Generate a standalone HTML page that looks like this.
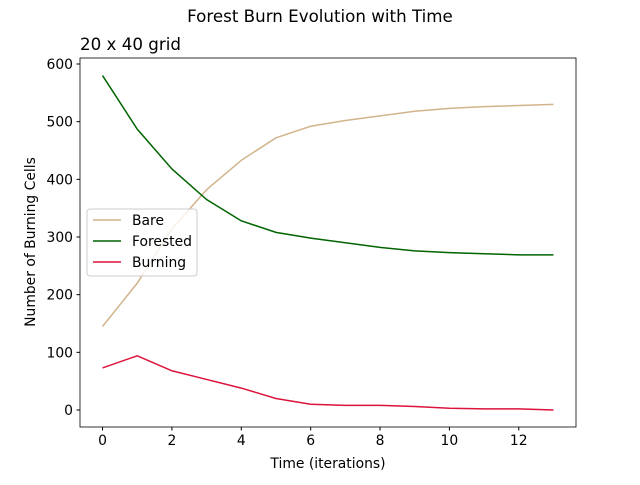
<!DOCTYPE html>
<html><head><meta charset="utf-8"><style>body{margin:0;background:#fff}svg{font-family:"DejaVu Sans","Liberation Sans",sans-serif}</style></head>
<body>
<svg id="c" width="640" height="480"></svg>
<script>
const iterations=[0,1,2,3,4,5,6,7,8,9,10,11,12,13];
const bare=[145,220,314,382,433,472,492,502,510,518,523,526,528,530];
const forested=[580,487,418,365,328,308,298,290,282,276,273,271,269,269];
const burning=[73,94,68,53,38,20,10,8,8,6,3,2,2,0];
const xTicks=[0,2,4,6,8,10,12];
const yTicks=[0,100,200,300,400,500,600];
const NS='http://www.w3.org/2000/svg';
const svg=document.getElementById('c');
const L=80,R=576,T=58,B=427;
const X=v=>L+(v+0.65)*(R-L)/14.3;
const Y=v=>410-v*(410-64)/600;
function el(t,a,p){const e=document.createElementNS(NS,t);for(const k in a)e.setAttribute(k,a[k]);(p||svg).appendChild(e);return e;}
let t=el('text',{x:320,y:22,'text-anchor':'middle','font-size':16.7});t.textContent='Forest Burn Evolution with Time';

t=el('text',{x:80,y:50,'font-size':16.7});t.textContent='20 x 40 grid';

const series=[[bare,'#d2b48c','Bare'],[forested,'#006400','Forested'],[burning,'#dc143c','Burning']];
series.forEach(([d,c,n])=>{const p=el('polyline',{points:d.map((v,i)=>X(iterations[i])+','+Y(v)).join(' '),fill:'none',stroke:c,'stroke-width':1.5});
});
const f=el('rect',{x:L,y:T,width:R-L,height:B-T,fill:'none',stroke:'#000','stroke-width':0.8});

xTicks.forEach(v=>{el('line',{x1:X(v),x2:X(v),y1:B,y2:B+3.5,stroke:'#000'});const s=el('text',{x:X(v),y:B+18,'text-anchor':'middle','font-size':13.9});s.textContent=v;
});
yTicks.forEach(v=>{el('line',{x1:L-3.5,x2:L,y1:Y(v),y2:Y(v),stroke:'#000'});const s=el('text',{x:L-7,y:Y(v)+5,'text-anchor':'end','font-size':13.9});s.textContent=v;
});
t=el('text',{x:328,y:468,'text-anchor':'middle','font-size':13.9});t.textContent='Time (iterations)';

t=el('text',{x:35,y:242,'text-anchor':'middle','font-size':13.9,transform:'rotate(-90 35 242)'});t.textContent='Number of Burning Cells';

const g=el('g',{});
el('rect',{x:87,y:209,width:110,height:67,rx:3,fill:'#fff','fill-opacity':0.8,stroke:'#ccc'},g);
series.forEach(([d,c,n],i)=>{const y=220+i*21;el('line',{x1:93,x2:121,y1:y,y2:y,stroke:c,'stroke-width':1.5},g);
const s=el('text',{x:132,y:y+5,'font-size':13.9},g);s.textContent=n;});
</script>
</body></html>
